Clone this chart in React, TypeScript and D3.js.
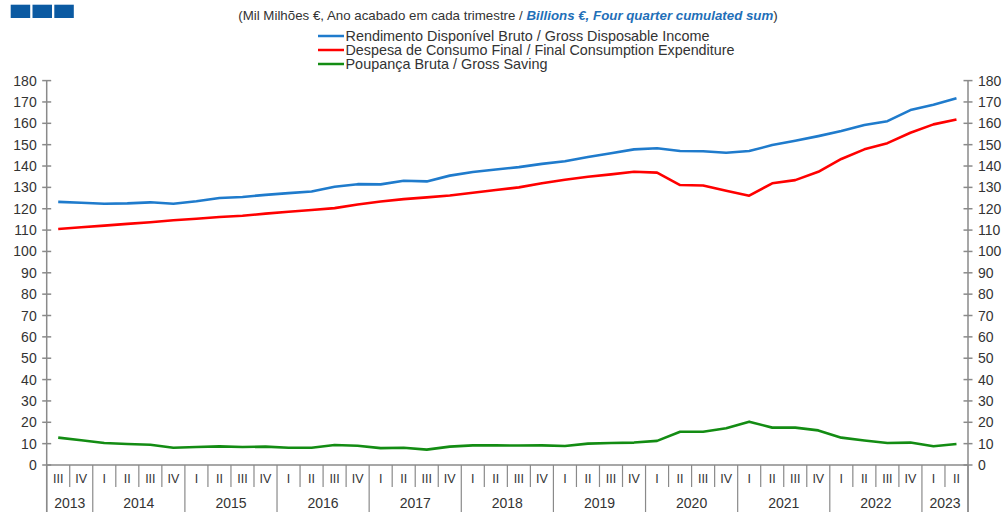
import React from "react";
import * as d3 from "d3";

const quarterLabels = [
  "III", "IV",
  "I", "II", "III", "IV",
  "I", "II", "III", "IV",
  "I", "II", "III", "IV",
  "I", "II", "III", "IV",
  "I", "II", "III", "IV",
  "I", "II", "III", "IV",
  "I", "II", "III", "IV",
  "I", "II", "III", "IV",
  "I", "II", "III", "IV",
  "I", "II",
];
const years = ["2013", "2014", "2015", "2016", "2017", "2018", "2019", "2020", "2021", "2022", "2023"];
const yearQuarterCounts = [2, 4, 4, 4, 4, 4, 4, 4, 4, 4, 2];

const gdi = [123.2, 122.8, 122.3, 122.5, 123.0, 122.3, 123.5, 125.0, 125.5, 126.5, 127.3, 128.1, 130.3, 131.5, 131.4, 133.1, 132.8, 135.5, 137.2, 138.4, 139.5, 141.0, 142.2, 144.2, 146.0, 147.8, 148.3, 147.0, 146.9, 146.2, 147.0, 149.8, 151.8, 154.0, 156.4, 159.2, 161.0, 166.2, 168.7, 171.7];
const fce = [110.5, 111.3, 112.1, 112.9, 113.7, 114.6, 115.3, 116.1, 116.7, 117.7, 118.6, 119.4, 120.3, 122.0, 123.4, 124.5, 125.3, 126.2, 127.5, 128.8, 130.0, 131.9, 133.6, 135.0, 136.1, 137.3, 136.9, 131.1, 130.9, 128.4, 126.1, 131.9, 133.4, 137.3, 143.3, 147.8, 150.7, 155.6, 159.5, 161.8];
const saving = [12.8, 11.6, 10.3, 9.8, 9.5, 8.1, 8.4, 8.7, 8.4, 8.6, 8.1, 8.1, 9.4, 9.0, 7.9, 8.1, 7.2, 8.6, 9.2, 9.2, 9.1, 9.2, 8.9, 10.0, 10.3, 10.5, 11.3, 15.6, 15.6, 17.2, 20.3, 17.5, 17.5, 16.2, 12.8, 11.5, 10.3, 10.5, 8.8, 9.8];
const yTicks = [0, 10, 20, 30, 40, 50, 60, 70, 80, 90, 100, 110, 120, 130, 140, 150, 160, 170, 180];

const seriesNames = [
  "Rendimento Disponível Bruto / Gross Disposable Income",
  "Despesa de Consumo Final / Final Consumption Expenditure",
  "Poupança Bruta / Gross Saving",
];
const seriesColors = ["#1f7bcc", "#ff0000", "#138c13"];

export default function App() {
  const W = 1006, H = 512;
  const left = 46.7, right = 968, y0 = 465, yTop = 80.6;
  const n = quarterLabels.length;
  const x = d3.scaleBand<number>().domain(d3.range(n)).range([left, right]).paddingInner(0).paddingOuter(0);
  const y = d3.scaleLinear().domain([0, 180]).range([y0, yTop]);
  const bw = x.bandwidth();
  const cx = (i: number) => (x(i) as number) + bw / 2;
  const line = d3.line<number>().x((_, i) => cx(i)).y((d) => y(d));
  const data = [gdi, fce, saving];
  const font = "Liberation Sans, Arial, sans-serif";
  const axisColor = "#8a8a8a";
  const textColor = "#333";

  const yearStarts: number[] = [];
  let acc = 0;
  yearQuarterCounts.forEach((c) => { yearStarts.push(acc); acc += c; });
  const yearBoundarySet = new Set([...yearStarts, n]);

  return (
    <svg width={W} height={H} style={{ position: "absolute", left: 0, top: 0, background: "#fff" }} fontFamily={font}>
      {[0, 1, 2].map((k) => (
        <rect key={k} x={10.7 + k * 21.8} y={4.7} width={19.5} height={13.3} fill="#0b5aa2" />
      ))}
      <text x={508} y={20} textAnchor="middle" fontSize={13.3} fill={textColor}>
        (Mil Milhões €, Ano acabado em cada trimestre /{" "}
        <tspan fill="#1f6fb8" fontWeight="bold" fontStyle="italic">Billions €, Four quarter cumulated sum</tspan>
        )
      </text>
      {seriesNames.map((s, k) => (
        <g key={k} transform={`translate(318, ${36 + k * 14})`}>
          <line x1={0} x2={26} y1={0} y2={0} stroke={seriesColors[k]} strokeWidth={2.5} />
          <text x={27.5} y={4.8} fontSize={13.9} fill={textColor} textLength={k === 0 ? 364 : k === 1 ? 389 : 202} lengthAdjust="spacingAndGlyphs">{s}</text>
        </g>
      ))}
      {[left, right].map((ax, a) => (
        <g key={a}>
          <line x1={ax} x2={ax} y1={yTop} y2={H} stroke={axisColor} strokeWidth={1.5} />
          {yTicks.map((t) => (
            <g key={t}>
              <line x1={ax - 4.5} x2={ax + 4.5} y1={y(t)} y2={y(t)} stroke={axisColor} strokeWidth={1.5} />
              <text
                x={a === 0 ? ax - 10 : ax + 10}
                y={y(t) + 5}
                fontSize={14}
                fill={textColor}
                textAnchor={a === 0 ? "end" : "start"}
              >
                {t}
              </text>
            </g>
          ))}
        </g>
      ))}
      <line x1={left} x2={right} y1={y0} y2={y0} stroke={axisColor} strokeWidth={1.5} />
      {d3.range(n + 1).map((k) => {
        const xx = k < n ? (x(k) as number) : right;
        const isYear = yearBoundarySet.has(k);
        return (
          <line key={k} x1={xx} x2={xx} y1={y0} y2={isYear ? H : 487} stroke={axisColor} strokeWidth={1.2} />
        );
      })}
      {quarterLabels.map((q, i) => (
        <text key={i} x={cx(i)} y={483} fontSize={12.5} textAnchor="middle" fill={textColor}>{q}</text>
      ))}
      {years.map((yr, k) => {
        const s = yearStarts[k];
        const e = s + yearQuarterCounts[k];
        const xm = ((x(s) as number) + (e < n ? (x(e) as number) : right)) / 2;
        return (
          <text key={yr} x={xm} y={507.5} fontSize={14} textAnchor="middle" fill={textColor}>{yr}</text>
        );
      })}
      {data.map((d, k) => (
        <path key={k} d={line(d) || ""} fill="none" stroke={seriesColors[k]} strokeWidth={2.6} strokeLinejoin="round" />
      ))}
    </svg>
  );
}
